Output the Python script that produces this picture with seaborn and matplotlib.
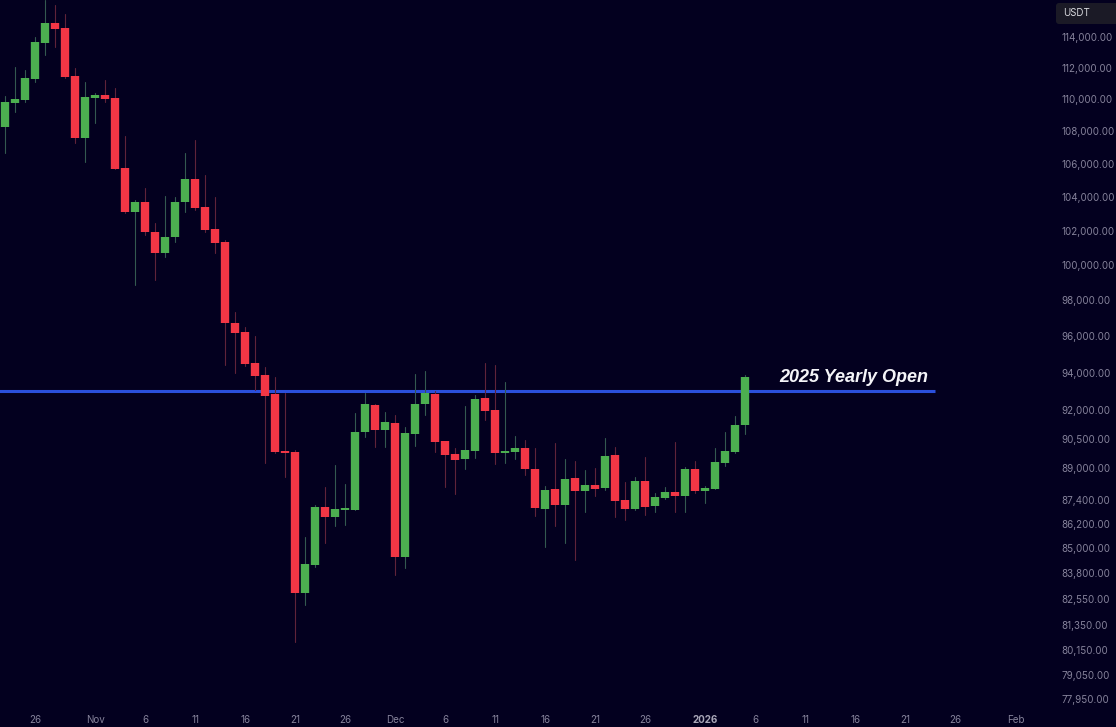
import pandas as pd
import seaborn as sns
import matplotlib.pyplot as plt
from matplotlib.patches import FancyBboxPatch
from matplotlib.ticker import FixedLocator, FixedFormatter, NullLocator
import matplotlib.dates as mdates

# daily candles, 23 Oct 2025 -> 5 Jan 2026
opens = [108260,109770,109940,111290,113610,114900,114580,111480,107580,110060,
         110260,110060,105760,103110,103700,101940,100700,101650,103700,105050,
         103410,102120,101360,96750,96240,94560,93890,92880,89880,89830,
         82850,84190,87040,86540,86890,86890,90870,92290,90970,91340,
         84580,90760,92340,92880,90400,89730,89470,89880,92660,92020,
         89780,89830,90040,88960,86940,87940,87140,88490,87840,88140,
         87990,89670,87390,86940,88340,87090,87490,87790,87590,88960,
         87840,87940,89270,89830,91240]
highs = [110190,112060,111870,114000,116450,116100,115500,112000,111100,110390,
         111230,110710,107700,103820,104530,102470,104060,104000,106680,107460,
         105290,104000,101480,97360,96520,96020,94320,93790,92930,89930,
         85550,87140,88040,89160,88190,91860,92930,92340,91920,91760,
         91130,93950,94110,93040,90420,90040,92240,92820,94560,94450,
         93520,90660,90450,90040,88090,90300,89470,89370,88900,89000,
         90550,90090,88290,88560,89570,87740,88040,90350,89060,89370,
         88090,90040,90870,91700,93890]
lows = [106680,109190,109810,111100,112840,113360,111350,107280,106130,108510,
        109810,105650,103060,98870,101770,99150,100470,101360,103110,103230,
        101940,100700,94450,94000,94400,93090,89270,89780,88560,80550,
        82280,84090,85260,86100,86150,86860,90610,90090,90090,83700,
        84040,90140,91760,89830,88040,87690,88960,89520,91500,89220,
        89270,89470,88660,86590,85060,86100,85260,84420,86790,87590,
        87890,86540,86390,86890,86640,86790,87440,86790,86790,87740,
        87240,87920,89110,89780,90760]
closes = [109810,110000,111350,113680,114900,114520,111420,107580,110130,110260,
          110000,105700,103110,103700,101940,100700,101650,103700,105050,103350,
          102060,101300,96750,96180,94500,93840,92770,89830,89780,82850,
          84240,87040,86540,86940,86990,90870,92340,90970,91400,84580,
          90820,92340,92930,90350,89670,89420,89930,92610,91970,89780,
          89880,90040,88960,86990,87890,87140,88440,87840,88140,87940,
          89620,87340,86940,88340,87040,87540,87790,87590,88960,87840,
          87990,89320,89880,91240,93790]

yearly_open = 93040
yearly_label = '2025 Yearly Open'

y_ticks = [114000,112000,110000,108000,106000,104000,102000,100000,98000,96000,94000,
           92000,90500,89000,87400,86200,85000,83800,82550,81350,80150,79050,77950]
x_dates = ['2025-10-26','2025-11-01','2025-11-06','2025-11-11','2025-11-16','2025-11-21','2025-11-26',
           '2025-12-01','2025-12-06','2025-12-11','2025-12-16','2025-12-21','2025-12-26',
           '2026-01-01','2026-01-06','2026-01-11','2026-01-16','2026-01-21','2026-01-26','2026-02-01']
x_labels = ['26','Nov','6','11','16','21','26','Dec','6','11','16','21','26',
            '2026','6','11','16','21','26','Feb']

BG = '#03001f'
GREEN = '#4caf50'
RED = '#f23645'
GREEN_WICK = '#33594f'
RED_WICK = '#5f2339'
BLUE = '#2a4fdc'
TICK = '#85829a'

sns.set_theme(style='dark')
plt.rcParams['font.family'] = ['Inter', 'DejaVu Sans']

df = pd.DataFrame({'date': pd.date_range('2025-10-23', periods=len(opens)),
                   'open': opens, 'high': highs, 'low': lows, 'close': closes})
df['candle'] = range(len(df))
df['dir'] = ['up' if c > o else 'down' for o, c in zip(df['open'], df['close'])]

wicks = df.melt(id_vars=['date', 'candle', 'dir'], value_vars=['high', 'low'], value_name='price')
bodies = df.melt(id_vars=['date', 'candle', 'dir'], value_vars=['open', 'close'], value_name='price')

W, H = 1116, 727
fig = plt.figure(figsize=(W / 100, H / 100), dpi=100, facecolor=BG)
ax = fig.add_axes([0, 22 / H, 1058 / W, 705 / H], facecolor=BG)

ax.set_yscale('log')

start = pd.Timestamp('2025-10-23')
ax.plot([start - pd.Timedelta(days=1), pd.Timestamp('2026-01-23 22:00')], [yearly_open, yearly_open],
        color=BLUE, lw=2.2, solid_capstyle='butt', zorder=1)

sns.lineplot(data=wicks, x='date', y='price', hue='dir', units='candle', estimator=None,
             palette={'up': GREEN_WICK, 'down': RED_WICK}, linewidth=0.8,
             legend=False, ax=ax, zorder=2)
sns.lineplot(data=bodies, x='date', y='price', hue='dir', units='candle', estimator=None,
             palette={'up': GREEN, 'down': RED}, linewidth=6.0, solid_capstyle='butt',
             legend=False, ax=ax, zorder=3)

ax.annotate(yearly_label, xy=(pd.Timestamp('2026-01-08 08:00'), yearly_open), xytext=(0, 3.5),
            textcoords='offset points', color='#f4f4f8', fontsize=13, fontstyle='italic', fontweight='bold',
            family='Liberation Sans', ha='left', va='bottom', zorder=5)

ax.set_xlim(start - pd.Timedelta(days=0.55), start + pd.Timedelta(days=105.25))
ax.set_ylim(77680, 116450)

ax.yaxis.tick_right()
ax.yaxis.set_major_locator(FixedLocator(y_ticks))
ax.yaxis.set_major_formatter(FixedFormatter([f'{v:,.2f}' for v in y_ticks]))
ax.yaxis.set_minor_locator(NullLocator())
ax.xaxis.set_major_locator(FixedLocator(mdates.date2num(pd.to_datetime(x_dates))))
ax.xaxis.set_major_formatter(FixedFormatter(x_labels))
ax.tick_params(axis='y', length=0, pad=2.5, labelsize=7.1, labelcolor=TICK)
ax.tick_params(axis='x', length=0, pad=7, labelsize=7.1, labelcolor=TICK)
ax.set_xlabel('')
ax.set_ylabel('')
ax.grid(False)
sns.despine(ax=ax, left=True, bottom=True, right=True, top=True)

# bold year label like the platform does
for lab in ax.get_xticklabels():
    if lab.get_text() == '2026':
        lab.set_fontweight('bold')
        lab.set_color('#a9a7b8')

# currency tag top right
fig.add_artist(FancyBboxPatch((1056, H - 24), 70, 21, boxstyle='round,pad=0,rounding_size=3',
                              transform=None, facecolor='#1b1a26', edgecolor='none'))
fig.text(1063 / W, 1 - 13.5 / H, 'USDT', color='#d9d9de', fontsize=7, ha='left', va='center')

fig.savefig('out.png', dpi=100, facecolor=BG)
